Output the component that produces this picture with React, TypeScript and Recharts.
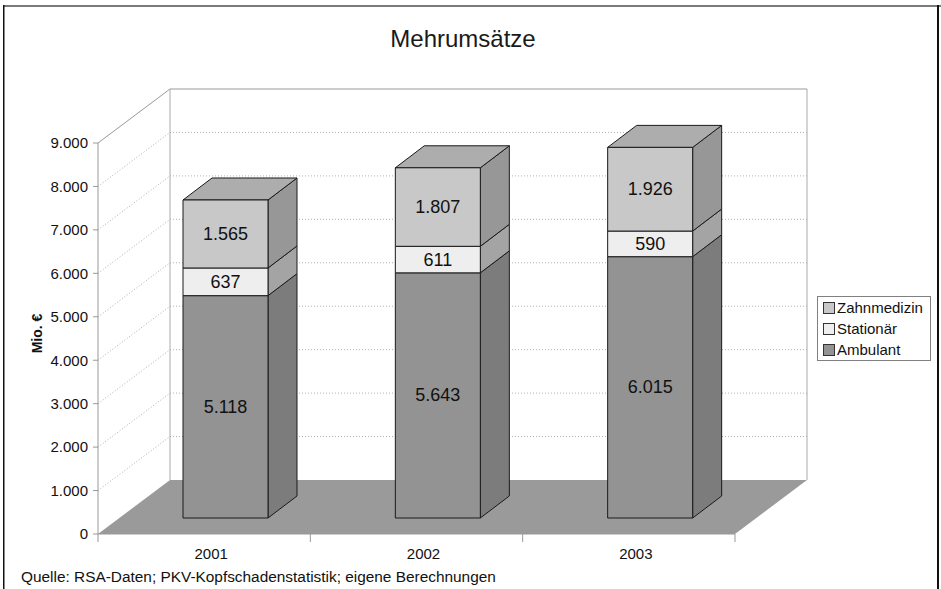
import { BarChart, Bar, XAxis, YAxis, CartesianGrid, Legend, LabelList } from 'recharts'

const years = ['2001', '2002', '2003']
const ambulant = [5118, 5643, 6015]
const stationaer = [637, 611, 590]
const zahnmedizin = [1565, 1807, 1926]
const yTicks = [0, 1000, 2000, 3000, 4000, 5000, 6000, 7000, 8000, 9000]

const data = years.map((year, i) => ({
  year,
  ambulant: ambulant[i],
  stationaer: stationaer[i],
  zahnmedizin: zahnmedizin[i],
}))

const W = 941
const H = 589
const PLOT_LEFT = 98
const PLOT_RIGHT = 735
const PLOT_TOP = 143
const PLOT_BOTTOM = 534
const BAND = (PLOT_RIGHT - PLOT_LEFT) / years.length

// back wall offset (3d depth of the chart box)
const WALL_DX = 72
const WALL_DY = -54
// bars stand a bit behind the front edge
const SHIFT_X = 21
const SHIFT_Y = -16
// depth of each bar
const DEPTH_DX = 29
const DEPTH_DY = -22

const FONT = '"Liberation Sans", Arial, Helvetica, sans-serif'

const fmt = (n: number) => String(n).replace(/\B(?=(\d{3})+(?!\d))/g, '.')

const box = (front: string, side: string, top: string | null) => (props: any) => {
  const { x, y, width, height } = props
  if (width == null || height == null) return <g />
  const fx = x + SHIFT_X
  const fy = y + SHIFT_Y
  const r = fx + width
  const b = fy + height
  return (
    <g stroke="#1a1a1a" strokeWidth={1} strokeLinejoin="round">
      <polygon
        points={`${r},${fy} ${r + DEPTH_DX},${fy + DEPTH_DY} ${r + DEPTH_DX},${b + DEPTH_DY} ${r},${b}`}
        fill={side}
      />
      {top && (
        <polygon
          points={`${fx},${fy} ${fx + DEPTH_DX},${fy + DEPTH_DY} ${r + DEPTH_DX},${fy + DEPTH_DY} ${r},${fy}`}
          fill={top}
        />
      )}
      <rect x={fx} y={fy} width={width} height={height} fill={front} />
    </g>
  )
}

const renderValue = (props: any) => {
  const vb = props.viewBox ?? props
  const { x, y, width, height } = vb
  return (
    <text
      x={x + width / 2 + SHIFT_X}
      y={y + height / 2 + SHIFT_Y}
      textAnchor="middle"
      dominantBaseline="central"
      fontSize={18}
      fontFamily={FONT}
      fill="#111"
    >
      {fmt(Number(props.value))}
    </text>
  )
}

const gridLine = (props: any) => {
  const { y1, index } = props
  const by = y1 + WALL_DY
  const isEdge = Math.abs(y1 - PLOT_TOP) < 1 || Math.abs(y1 - PLOT_BOTTOM) < 1
  return (
    <g key={`grid-${index}`}>
      {index === 0 && (
        <g>
          <polygon
            points={`${PLOT_LEFT},${PLOT_BOTTOM} ${PLOT_RIGHT},${PLOT_BOTTOM} ${PLOT_RIGHT + WALL_DX},${PLOT_BOTTOM + WALL_DY} ${PLOT_LEFT + WALL_DX},${PLOT_BOTTOM + WALL_DY}`}
            fill="#9a9a9a"
          />
          <line x1={PLOT_LEFT} y1={PLOT_TOP} x2={PLOT_LEFT + WALL_DX} y2={PLOT_TOP + WALL_DY} stroke="#999" />
          <line x1={PLOT_LEFT + WALL_DX} y1={PLOT_TOP + WALL_DY} x2={PLOT_RIGHT + WALL_DX} y2={PLOT_TOP + WALL_DY} stroke="#999" />
          <line x1={PLOT_LEFT + WALL_DX} y1={PLOT_TOP + WALL_DY} x2={PLOT_LEFT + WALL_DX} y2={PLOT_BOTTOM + WALL_DY} stroke="#aaa" />
          <line x1={PLOT_RIGHT + WALL_DX} y1={PLOT_TOP + WALL_DY} x2={PLOT_RIGHT + WALL_DX} y2={PLOT_BOTTOM + WALL_DY} stroke="#aaa" />
        </g>
      )}
      {!isEdge && (
        <g stroke="#b0b0b0" strokeDasharray="1 2" strokeWidth={1}>
          <line x1={PLOT_LEFT} y1={y1} x2={PLOT_LEFT + WALL_DX} y2={by} />
          <line x1={PLOT_LEFT + WALL_DX} y1={by} x2={PLOT_RIGHT + WALL_DX} y2={by} />
        </g>
      )}
    </g>
  )
}

const XTick = (props: any) => {
  const { x, payload, index } = props
  const half = BAND / 2
  return (
    <g>
      <line x1={x - half} x2={x - half} y1={PLOT_BOTTOM} y2={PLOT_BOTTOM + 8} stroke="#999" />
      {index === years.length - 1 && (
        <line x1={x + half} x2={x + half} y1={PLOT_BOTTOM} y2={PLOT_BOTTOM + 8} stroke="#999" />
      )}
      <text x={x + 7} y={PLOT_BOTTOM + 25} textAnchor="middle" fontSize={15} fontFamily={FONT} fill="#111">
        {payload.value}
      </text>
    </g>
  )
}

const renderYLabel = (props: any) => {
  const vb = props.viewBox
  const cx = vb.x - 1
  const cy = vb.y + vb.height / 2 - 5
  return (
    <text
      x={cx}
      y={cy}
      transform={`rotate(-90, ${cx}, ${cy})`}
      textAnchor="middle"
      dominantBaseline="central"
      fontSize={14}
      fontWeight="bold"
      fontFamily={FONT}
      fill="#111"
    >
      Mio. €
    </text>
  )
}

const renderLegend = (props: any) => {
  const items = [...(props.payload ?? [])].reverse()
  return (
    <div
      style={{
        border: '1px solid #808080',
        background: '#fff',
        padding: '0 0 0 5px',
        fontFamily: FONT,
        fontSize: 15,
        color: '#111',
        boxSizing: 'border-box',
        width: 114,
      }}
    >
      {items.map((it: any) => (
        <div key={it.value} style={{ display: 'flex', alignItems: 'center', height: 21 }}>
          <span
            style={{
              display: 'inline-block',
              width: 10,
              height: 10,
              background: it.color,
              border: '1px solid #333',
              marginRight: 2,
            }}
          />
          {it.value}
        </div>
      ))}
    </div>
  )
}

export default function App() {
  return (
    <div style={{ position: 'absolute', left: 0, top: 0, width: W, height: H, background: '#fff' }}>
      <BarChart
        width={W}
        height={H}
        data={data}
        margin={{ top: PLOT_TOP, right: W - PLOT_RIGHT, bottom: H - PLOT_BOTTOM - 30, left: PLOT_LEFT - 60 }}
        barSize={85}
      >
        <CartesianGrid vertical={false} horizontal={gridLine} />
        <XAxis
          dataKey="year"
          height={30}
          axisLine={{ stroke: '#999' }}
          tickLine={false}
          tick={<XTick />}
          interval={0}
        />
        <YAxis
          width={60}
          type="number"
          domain={[0, 9000]}
          ticks={yTicks}
          interval={0}
          tickFormatter={(v: number) => fmt(v)}
          axisLine={{ stroke: '#999' }}
          tickLine={{ stroke: '#999' }}
          tickSize={5}
          tickMargin={5}
          tick={{ fontSize: 15, fontFamily: FONT, fill: '#111' }}
          label={renderYLabel}
        />
        <Legend
          layout="vertical"
          align="center"
          verticalAlign="middle"
          wrapperStyle={{ left: 817, top: 296, width: 114, right: 'auto', bottom: 'auto' }}
          content={renderLegend}
        />
        <Bar
          dataKey="ambulant"
          name="Ambulant"
          stackId="a"
          fill="#939393"
          shape={box('#939393', '#7c7c7c', null)}
          isAnimationActive={false}
        >
          <LabelList dataKey="ambulant" content={renderValue} />
        </Bar>
        <Bar
          dataKey="stationaer"
          name="Stationär"
          stackId="a"
          fill="#eeeeee"
          shape={box('#eeeeee', '#a4a4a4', null)}
          isAnimationActive={false}
        >
          <LabelList dataKey="stationaer" content={renderValue} />
        </Bar>
        <Bar
          dataKey="zahnmedizin"
          name="Zahnmedizin"
          stackId="a"
          fill="#c8c8c8"
          shape={box('#c8c8c8', '#979797', '#adadad')}
          isAnimationActive={false}
        >
          <LabelList dataKey="zahnmedizin" content={renderValue} />
        </Bar>
      </BarChart>
      <svg
        width={W}
        height={H}
        style={{ position: 'absolute', left: 0, top: 0, pointerEvents: 'none' }}
      >
        <rect x={3} y={5} width={W - 3} height={2} fill="#7a7a7a" />
        <rect x={3} y={5} width={1.5} height={H - 5} fill="#111" />
        <rect x={937} y={5} width={2} height={H - 5} fill="#111" />
        <text x={463} y={47} textAnchor="middle" fontSize={24} fontFamily={FONT} fill="#1a1a1a">
          Mehrumsätze
        </text>
        <text x={21} y={582} fontSize={15.4} fontFamily={FONT} fill="#111">
          Quelle: RSA-Daten; PKV-Kopfschadenstatistik; eigene Berechnungen
        </text>
      </svg>
    </div>
  )
}
